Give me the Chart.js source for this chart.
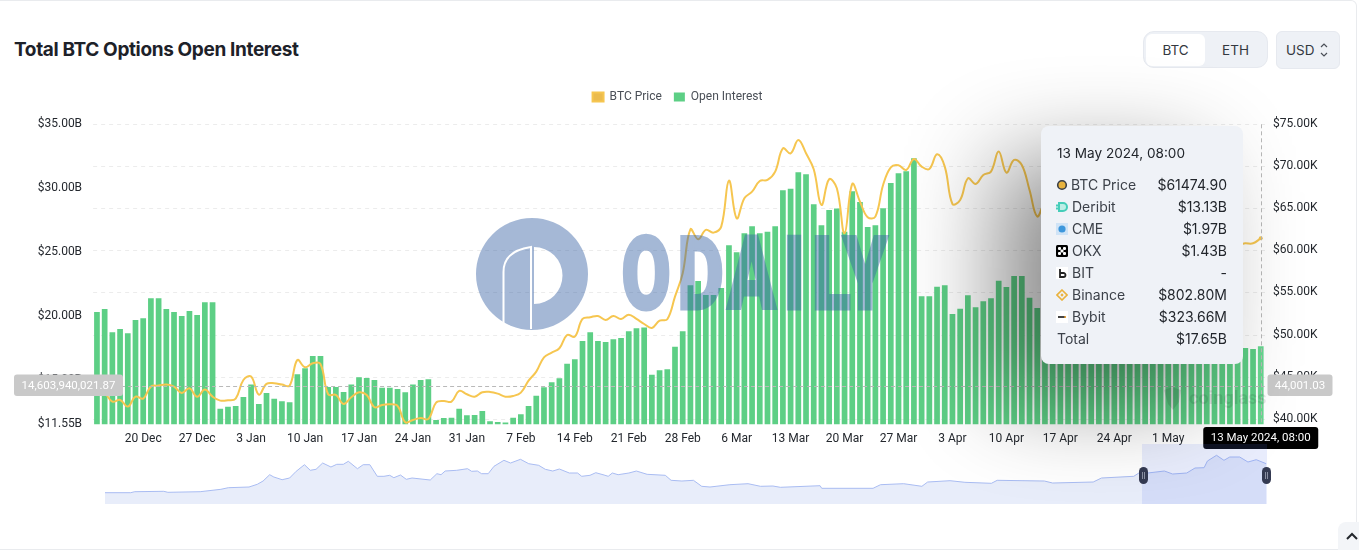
<!DOCTYPE html>
<html><head><meta charset="utf-8">
<script src="https://cdn.jsdelivr.net/npm/chart.js@4"></script>
<style>
html,body{margin:0;padding:0;background:#fff;width:1359px;height:551px;overflow:hidden;font-family:Inter,sans-serif}
.abs{position:absolute}
#card{left:0;top:0;width:1357px;height:550px;box-sizing:border-box;border:1px solid #e9ebee;border-left:none;border-radius:0 6px 6px 0}
#title{left:14px;top:38px;font:700 19px/24px Inter;color:#1d2129;letter-spacing:-.36px;white-space:nowrap}
#group{left:1143px;top:31px;width:125px;height:37px;background:#eef1f6;border:1px solid #e6e9ef;box-sizing:border-box;border-radius:11px}
#btc{left:1146px;top:34px;width:59px;height:32px;background:#fff;border-radius:6px;text-align:center;font:13.5px/32px Inter;color:#33383f}
#eth{left:1206px;top:34px;width:59px;height:32px;text-align:center;font:13.5px/32px Inter;color:#33383f}
#usd{left:1276px;top:31px;width:64px;height:38px;background:#eef1f6;border:1px solid #e6e9ef;box-sizing:border-box;border-radius:6px;font:13.5px/36px Inter;color:#33383f;padding-left:9px}
canvas{position:absolute;display:block}
#main{left:0;top:0}
#mini{left:105px;top:444px}
#sel{left:1142px;top:444px;width:125px;height:59.7px;background:rgba(100,130,240,.14)}
.hd{width:9px;height:17px;top:467px;background:#343a52;border-radius:5px}
.hd:after{content:"";position:absolute;left:3px;top:5px;width:1px;height:7px;border-left:1px solid #8a90a3;border-right:1px solid #8a90a3}
#tip{left:1041px;top:126px;width:202px;height:238px;background:#eff2f7;border-radius:8px;box-shadow:-42px 34px 95px 0 rgba(0,0,0,.46);color:#2b2f36}
.row{position:absolute;left:0;width:202px;height:22px;font:14px/22px Inter;color:#3c4149}
.row .n{position:absolute;left:31px}
.row .v{position:absolute;right:16px;color:#22262c}
.row svg{position:absolute;left:15px;top:5px;width:12px;height:12px}
#tdate{position:absolute;left:16px;top:17px;font:13.6px/20px Inter;color:#22262c;white-space:nowrap}
#up{left:1338px;top:522px;width:21px;height:28px;background:#f3f5f8;border-radius:8px 0 0 0}
</style></head><body>
<div id="card" class="abs"></div>
<div id="title" class="abs">Total BTC Options Open Interest</div>
<div id="group" class="abs"></div><div id="btc" class="abs">BTC</div><div id="eth" class="abs">ETH</div>
<div id="usd" class="abs">USD<svg class="abs" style="left:42px;top:9px" width="10" height="18" viewBox="0 0 10 18"><path d="M2 6l3-3 3 3M2 12l3 3 3-3" fill="none" stroke="#4b5058" stroke-width="1.2"/></svg></div>
<canvas id="main" width="1359" height="551"></canvas>
<canvas id="mini" width="1162" height="60"></canvas>
<div id="sel" class="abs"></div>
<div class="hd abs" style="left:1139px"></div><div class="hd abs" style="left:1262px"></div>
<svg class="abs" style="left:0;top:0;pointer-events:none" width="1359" height="551">
 <g fill="rgb(55,98,164)" fill-opacity=".45">
  <path fill-rule="evenodd" d="M532 218a56 56 0 1 0 0 112a56 56 0 1 0 0-112zM534 247L534 304A28 28 0 0 0 534 247Z"/>
 </g>
 <path d="M503.5 323L503.5 272Q503.5 251 531 247L531 329" fill="none" stroke="#fff" stroke-width="2"/>
 <text opacity=".45" transform="scale(.7,1)" x="888 968 1039 1119 1160 1204" y="309" font-family="Roboto" font-weight="900" font-size="102" fill="rgb(55,98,164)" stroke="rgb(55,98,164)" stroke-width="3">ODAILY</text>
 <path d="M1164 390l8-3 9 3-2 12-6 8-5-6z" fill="rgba(0,0,0,.11)"/>
 <text x="1189" y="404" font-family="Roboto" font-weight="700" font-size="18" fill="rgba(0,0,0,.1)">coinglass</text>
</svg>
<div id="tip" class="abs">
 <div id="tdate">13 May 2024, 08:00</div>
 <div class="row" style="top:48px"><svg viewBox="0 0 12 12"><circle cx="6" cy="6" r="4.3" fill="#e8b33e" stroke="#3a3f46" stroke-width="1.6"/></svg><span class="n" style="left:30px">BTC Price</span><span class="v">$61474.90</span></div>
 <div class="row" style="top:70px"><svg viewBox="0 0 12 12"><path d="M3 2h4a4 4 0 0 1 0 8H3zM0 4.5h3M0 7.5h3" fill="#bdeee6" stroke="#45cdb9" stroke-width="2"/></svg><span class="n">Deribit</span><span class="v">$13.13B</span></div>
 <div class="row" style="top:92px"><svg viewBox="0 0 12 12"><rect width="12" height="12" fill="#cfe3f6"/><circle cx="6" cy="6" r="3.6" fill="#3d97dc"/></svg><span class="n">CME</span><span class="v">$1.97B</span></div>
 <div class="row" style="top:114px"><svg viewBox="0 0 12 12"><rect width="12" height="12" rx="1.5" fill="#000"/><g fill="#fff"><rect x="2" y="2" width="3" height="3" rx="1"/><rect x="7" y="2" width="3" height="3" rx="1"/><rect x="2" y="7" width="3" height="3" rx="1"/><rect x="7" y="7" width="3" height="3" rx="1"/><rect x="4.5" y="4.5" width="3" height="3" rx="1"/></g></svg><span class="n">OKX</span><span class="v">$1.43B</span></div>
 <div class="row" style="top:136px"><svg viewBox="0 0 12 12"><rect width="12" height="12" fill="#fff"/><path d="M4 2v8h3.5a2 2 0 0 0 0-4H4" fill="none" stroke="#222" stroke-width="1.8"/></svg><span class="n">BIT</span><span class="v">-</span></div>
 <div class="row" style="top:158px"><svg viewBox="0 0 12 12"><g fill="none" stroke="#eab23c" stroke-width="1.6"><path d="M6 1l5 5-5 5-5-5z"/></g><rect x="4.8" y="4.8" width="2.4" height="2.4" fill="#eab23c" transform="rotate(45 6 6)"/></svg><span class="n">Binance</span><span class="v">$802.80M</span></div>
 <div class="row" style="top:180px"><svg viewBox="0 0 12 12"><rect width="12" height="12" fill="#fff"/><rect x="2" y="5" width="8" height="2" fill="#444"/><rect x="8.4" y="5" width="1.6" height="2" fill="#e8a33a"/></svg><span class="n">Bybit</span><span class="v">$323.66M</span></div>
 <div class="row" style="top:202px"><span class="n" style="left:16px">Total</span><span class="v">$17.65B</span></div>
</div>
<div id="up" class="abs"><svg class="abs" style="left:8px;top:9px" width="14" height="10" viewBox="0 0 14 10"><path d="M1 8l5-5 5 5" fill="none" stroke="#22262c" stroke-width="2"/></svg></div>
<script>
const openInterestB=[20.33,20.56,18.74,19.00,18.66,19.70,19.84,21.40,21.40,20.56,20.33,20.02,20.41,20.10,21.09,21.09,12.77,12.93,12.98,13.68,14.67,13.14,14.00,13.55,13.35,13.27,15.46,15.93,16.89,16.89,14.47,14.47,14.08,14.67,15.22,15.17,15.01,14.41,14.41,14.31,14.05,14.67,15.01,15.07,11.89,12.04,12.07,12.77,12.25,12.28,12.59,11.78,11.73,11.70,12.07,12.33,12.98,13.79,14.44,14.83,15.14,16.29,16.63,18.06,18.74,18.06,17.98,18.19,18.30,18.82,19.05,19.11,15.43,15.77,15.85,17.62,18.82,22.42,22.75,21.66,21.66,22.21,25.54,25.00,26.48,27.03,26.48,26.61,27.03,29.84,29.97,31.25,31.09,28.75,27.11,28.31,28.41,26.61,29.76,28.93,26.98,27.11,28.44,30.42,31.17,31.33,32.35,21.56,21.56,22.31,22.42,20.17,20.59,21.63,20.70,21.16,21.40,22.78,22.29,23.14,23.14,21.45,20.64,20.3,20.6,20.0,19.7,19.9,20.3,19.5,19.8,20.1,19.4,19.2,19.6,19.0,18.7,18.2,18.5,18.6,18.3,18.5,18.4,18.1,18.3,17.9,18.2,18.0,17.9,17.52,17.44,17.65];
const btcPriceK=[43.29,43.09,42.10,42.30,41.51,42.69,42.46,43.88,44.00,44.12,43.88,43.13,43.68,42.69,43.53,42.69,42.22,42.26,42.46,44.67,45.07,42.93,44.20,44.28,44.12,44.00,47.04,46.17,46.65,46.57,42.97,42.89,41.82,42.62,43.21,42.89,41.43,41.71,41.79,41.59,39.65,39.93,40.16,40.05,41.98,42.18,42.10,43.37,42.97,42.69,43.21,43.25,43.05,42.69,42.77,43.17,44.59,45.66,47.36,47.91,48.43,50.01,49.81,51.91,52.11,52.26,51.79,52.26,51.91,52.42,51.91,51.31,50.84,51.71,51.87,54.56,57.33,62.54,61.36,62.47,62.15,62.86,68.32,63.85,66.22,67.01,68.28,68.40,69.39,72.15,71.56,73.14,71.56,69.66,65.43,68.48,67.41,62.07,67.92,65.83,63.97,64.05,67.80,69.90,70.14,69.58,70.89,69.98,69.70,71.44,69.98,65.55,66.02,68.59,67.92,68.99,69.39,71.76,69.27,70.77,70.18,67.21,64.05,65.6,63.5,62.0,63.5,64.0,65.0,64.9,66.8,66.4,64.3,64.5,63.7,63.4,63.1,63.8,60.6,58.2,59.1,62.9,63.9,64.0,63.2,62.3,61.2,63.0,60.8,60.88,60.88,61.47];
const leftTicks=[11.55,15,20,25,30,35];
const rightTicks=[40,45,50,55,60,65,70,75];
const xTickLabels=['20 Dec','27 Dec','3 Jan','10 Jan','17 Jan','24 Jan','31 Jan','7 Feb','14 Feb','21 Feb','28 Feb','6 Mar','13 Mar','20 Mar','27 Mar','3 Apr','10 Apr','17 Apr','24 Apr','1 May','8 May'];
const seriesNames=['BTC Price','Open Interest'];
const hoverIndex=151, hoverRightK=44.00103, hoverLeftText='14,603,940,021.87', hoverRightText='44,001.03', hoverDateText='13 May 2024, 08:00';
const miniDays=[0,31,36,71,76,115,140,149,174,184,191,199,204,214,223,231,241,248,255,263,273,280,288,294,305,312,320,329,337,344,349,357,364,371,393,401,406,411,425,438,443,450,455,463,470,482,490,502,512,524,532,541,549,561,571,576,586,593,603,608,613,620,633,642,655,677,684,697,711,721,731,755,777,792,807,816,864,866,928,937,965,987,994,1021,1039,1071,1078,1135,1145,1194,1204,1243,1251,1260,1280,1290,1307,1317,1328,1332,1343,1352,1359,1371,1381,1391,1403];
const miniValues=[11.3,11.3,12.3,12.7,11.7,12.3,14.7,16.3,17,19.7,23,29.3,27,24.3,26,32.7,39.3,33.7,34.7,41,37,39.7,39.7,42.7,35.3,39.3,39.3,27.7,27.7,28.7,26.3,29,24.7,26,24,30.3,29.3,33,33.7,35.3,32.7,33,30.3,30.3,37.7,43.7,41,44.7,40.3,38.7,34.7,33,35,31,31,27.7,28.7,31.3,29,27.7,31,29.3,31,33,29.7,28.7,23.7,23,23.7,17.7,17,19.3,20.3,17.7,18,16.7,18.3,15.7,15.7,19.3,20.3,17.7,22,23.3,21.7,20.7,23.7,23,21,22,26,27.7,32,31,33,30,31,36,36.3,43,48.7,43.7,47,47,42,44.3,40.3];

const xLabels=openInterestB.map((_,i)=>(i%7===6?xTickLabels[(i-6)/7]:''));
const tickColor='#24282e';

const pointerPlugin={id:'pointer',afterDatasetsDraw(c){
  const {ctx,chartArea:a,scales:s}=c;
  const x=s.x.getPixelForValue(hoverIndex), y=s.y1.getPixelForValue(hoverRightK);
  ctx.save();ctx.strokeStyle='#b9b9b9';ctx.lineWidth=1;ctx.setLineDash([4,3]);
  ctx.beginPath();ctx.moveTo(a.left,Math.round(y)+.5);ctx.lineTo(a.right,Math.round(y)+.5);
  ctx.moveTo(Math.round(x)+.5,a.top);ctx.lineTo(Math.round(x)+.5,a.bottom);ctx.stroke();ctx.setLineDash([]);
  ctx.textBaseline='middle';ctx.textAlign='center';
  const box=(x0,y0,w,h,fill,txt,col)=>{ctx.fillStyle=fill;ctx.beginPath();ctx.roundRect(x0,y0,w,h,3);ctx.fill();ctx.fillStyle=col;ctx.fillText(txt,x0+w/2,y0+h/2+.5);};
  ctx.font='11.5px Roboto';
  box(14,374.5,109,21.5,'#c9c9c9',hoverLeftText,'#fff');
  box(1267.5,374.5,65,21.5,'#c9c9c9',hoverRightText,'#fff');
  box(x-57.5,427,115,22,'#000',hoverDateText,'#fff');
  ctx.restore();
}};
const legendGap={id:'legendGap',beforeLayout(c){const l=c.legend;if(l&&!l._gap){l._gap=1;const f=l.fit;l.fit=function(){f.call(this);this.height=45.3;};}}};

new Chart(document.getElementById('main'),{
  data:{labels:xLabels,datasets:[
    {type:'line',label:seriesNames[0],data:btcPriceK,yAxisID:'y1',borderColor:'#F6C650',backgroundColor:'#EBBB4E',borderWidth:2,tension:.4,pointRadius:btcPriceK.map((_,i)=>i===hoverIndex?2:0),pointBackgroundColor:'#F6C650',pointBorderWidth:0,order:0},
    {type:'bar',label:seriesNames[1],data:openInterestB,yAxisID:'y',backgroundColor:openInterestB.map((_,i)=>i===hoverIndex?'#68D790':'#5DCF85'),barPercentage:.74,categoryPercentage:1,order:1}
  ]},
  options:{responsive:false,animation:false,devicePixelRatio:1,
    layout:{padding:{top:79,left:0,right:4,bottom:0}},
    plugins:{tooltip:{enabled:false},
      legend:{position:'top',labels:{boxWidth:11,boxHeight:9,padding:12,font:{family:'Roboto',size:12},color:'#4a4f57'}}},
    scales:{
      x:{grid:{display:false},border:{display:false},afterFit(s){s.height=126.7;},
        ticks:{autoSkip:false,maxRotation:0,minRotation:0,padding:-1,color:tickColor,font:{family:'Roboto',size:12}}},
      y:{position:'left',min:11.55,max:35,grid:{display:false},border:{display:false},
        afterBuildTicks(s){s.ticks=leftTicks.map(v=>({value:v}));},afterFit(s){s.width=93.1;},
        ticks:{padding:3,labelOffset:-.5,color:tickColor,font:{family:'Roboto',size:12},callback:v=>'$'+Number(v).toFixed(2)+'B'}},
      y1:{position:'right',min:39.41,max:75,border:{display:false,dash:[4,4]},
        grid:{color:'#ececec',drawTicks:false},
        afterBuildTicks(s){s.ticks=rightTicks.map(v=>({value:v}));},afterFit(s){s.width=90.4;},
        ticks:{padding:8.5,labelOffset:-.5,color:tickColor,font:{family:'Roboto',size:12},callback:v=>'$'+Number(v).toFixed(2)+'K'}}
    }
  },
  plugins:[legendGap,pointerPlugin]
});

new Chart(document.getElementById('mini'),{
  type:'line',
  data:{datasets:[{data:miniDays.map((d,i)=>({x:d,y:miniValues[i]})),borderColor:'#A9BCF2',backgroundColor:'#E8EDFA',fill:'origin',borderWidth:1,pointRadius:0,tension:0}]},
  options:{responsive:false,animation:false,devicePixelRatio:1,layout:{padding:0},
    plugins:{legend:{display:false},tooltip:{enabled:false}},
    scales:{x:{type:'linear',display:false,min:0,max:1404},y:{display:false,min:0,max:60}}}
});
</script>
</body></html>
